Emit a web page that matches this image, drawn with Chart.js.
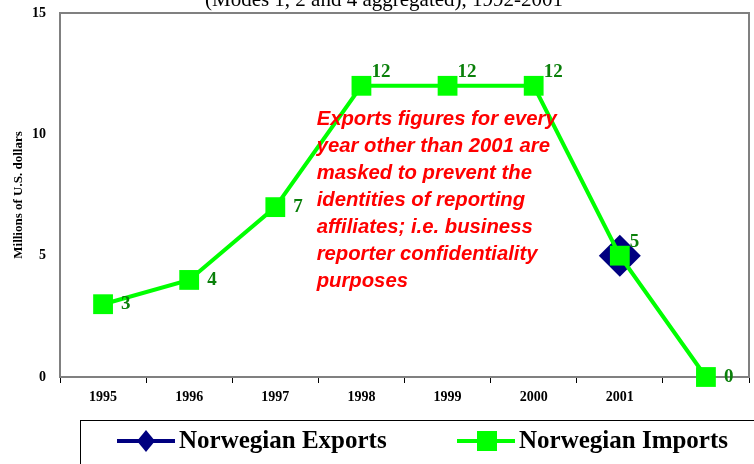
<!DOCTYPE html>
<html>
<head>
<meta charset="utf-8">
<script src="https://cdn.jsdelivr.net/npm/chart.js@4"></script>
<style>
  html, body { margin: 0; padding: 0; background: #fff; }
  #wrap { width: 754px; height: 464px; }
</style>
</head>
<body>
<div id="wrap"><canvas id="myChart"></canvas></div>
<script>
const years = ['1995', '1996', '1997', '1998', '1999', '2000', '2001', ''];
const importValues = [3, 4, 7, 12, 12, 12, 5, 0];
const exportValues = [null, null, null, null, null, null, 5, null];
const yTicks = [0, 5, 10, 15];
const titleText = '(Modes 1, 2 and 4 aggregated), 1992-2001';
const noteLines = [
  'Exports figures for every',
  'year other than 2001 are',
  'masked to prevent the',
  'identities of reporting',
  'affiliates; i.e. business',
  'reporter confidentiality',
  'purposes',
];

const serif = '"Liberation Serif", "Times New Roman", serif';

const decorations = {
  id: 'decorations',
  beforeDatasetsDraw(chart) {
    const { ctx, chartArea: a } = chart;
    ctx.save();
    ctx.strokeStyle = '#808080';
    ctx.lineWidth = 2;
    ctx.strokeRect(a.left, a.top, a.right - a.left, a.bottom - a.top);
    ctx.restore();
  },
  afterDatasetsDraw(chart) {
    const { ctx, scales: { x, y } } = chart;
    ctx.save();

    // title, mostly cut off at the top
    ctx.fillStyle = '#000';
    ctx.font = '21px ' + serif;
    ctx.textAlign = 'center';
    ctx.textBaseline = 'alphabetic';
    ctx.fillText(titleText, 384, 6);

    // value labels for imports
    const meta = chart.getDatasetMeta(0);
    ctx.fillStyle = '#0a800a';
    ctx.font = 'bold 19px ' + serif;
    ctx.textAlign = 'left';
    ctx.textBaseline = 'middle';
    meta.data.forEach((pt, i) => {
      const v = importValues[i];
      const next = importValues[i + 1];
      const lift = next !== undefined && next <= v ? -14 : 0;
      const dx = lift ? 10 : 18;
      ctx.fillText(String(v), pt.x + dx, pt.y + lift);
    });

    // red note
    ctx.fillStyle = '#ff0000';
    ctx.font = 'italic bold 20.3px "Liberation Sans", Arial, sans-serif';
    const nx = x.getPixelForValue(2.48);
    let ny = y.getPixelForValue(10.62);
    noteLines.forEach((line) => {
      ctx.fillText(line, nx, ny);
      ny += 27;
    });

    // legend box
    const lx = 80, ly = 420;
    ctx.strokeStyle = '#000';
    ctx.lineWidth = 1;
    ctx.strokeRect(lx + 0.5, ly + 0.5, 754, 60);
    const my = ly + 21;

    ctx.lineWidth = 4;
    ctx.strokeStyle = '#000080';
    ctx.beginPath();
    ctx.moveTo(117, my);
    ctx.lineTo(175, my);
    ctx.stroke();
    ctx.fillStyle = '#000080';
    ctx.beginPath();
    ctx.moveTo(146, my - 11);
    ctx.lineTo(155, my);
    ctx.lineTo(146, my + 11);
    ctx.lineTo(137, my);
    ctx.closePath();
    ctx.fill();

    ctx.strokeStyle = '#00ff00';
    ctx.beginPath();
    ctx.moveTo(457, my);
    ctx.lineTo(515, my);
    ctx.stroke();
    ctx.fillStyle = '#00ff00';
    ctx.fillRect(477, my - 10, 20, 20);

    ctx.fillStyle = '#000';
    ctx.font = 'bold 25px ' + serif;
    ctx.textBaseline = 'middle';
    ctx.fillText('Norwegian Exports', 179, my + 1);
    ctx.fillText('Norwegian Imports', 519, my + 1);

    ctx.restore();
  },
};

const config = {
  type: 'line',
  data: {
    labels: years,
    datasets: [
      {
        label: 'Norwegian Imports',
        data: importValues,
        borderColor: '#00ff00',
        backgroundColor: '#00ff00',
        borderWidth: 4,
        pointStyle: 'rect',
        pointRadius: 14,
        pointHoverRadius: 14,
        pointBorderWidth: 0,
        clip: false,
        order: 0,
      },
      {
        label: 'Norwegian Exports',
        data: exportValues,
        borderColor: '#000080',
        backgroundColor: '#000080',
        borderWidth: 4,
        pointStyle: 'rectRot',
        pointRadius: 21,
        pointHoverRadius: 21,
        pointBorderWidth: 0,
        clip: false,
        order: 1,
      },
    ],
  },
  options: {
    responsive: true,
    maintainAspectRatio: false,
    animation: false,
    layout: { autoPadding: false, padding: { top: 13, right: 5, left: 11, bottom: 0 } },
    plugins: {
      legend: { display: false },
      tooltip: { enabled: false },
      title: { display: false },
    },
    scales: {
      x: {
        offset: true,
        grid: {
          offset: true,
          drawOnChartArea: false,
          drawTicks: true,
          tickLength: 6,
          color: '#000',
        },
        border: { display: true, color: '#000', width: 2 },
        ticks: {
          color: '#000',
          font: { family: serif, weight: 'bold', size: 14 },
          padding: 6,
          maxRotation: 0,
        },
        afterFit(scale) {
          scale.height = 87;
          scale.paddingLeft = 0;
          scale.paddingRight = 0;
        },
      },
      y: {
        min: 0,
        max: 15,
        afterBuildTicks(scale) {
          scale.ticks = yTicks.map((v) => ({ value: v }));
        },
        grid: { display: false },
        border: { display: false },
        ticks: {
          color: '#000',
          font: { family: serif, weight: 'bold', size: 14 },
          padding: 6,
        },
        title: {
          display: true,
          text: 'Millions of U.S. dollars',
          color: '#000',
          font: { family: serif, weight: 'bold', size: 13 },
          padding: 0,
        },
        afterFit(scale) {
          scale.width = 49;
          scale.paddingTop = 0;
          scale.paddingBottom = 0;
        },
      },
    },
  },
  plugins: [decorations],
};

const myChart = new Chart(document.getElementById('myChart'), config);
</script>
</body>
</html>
